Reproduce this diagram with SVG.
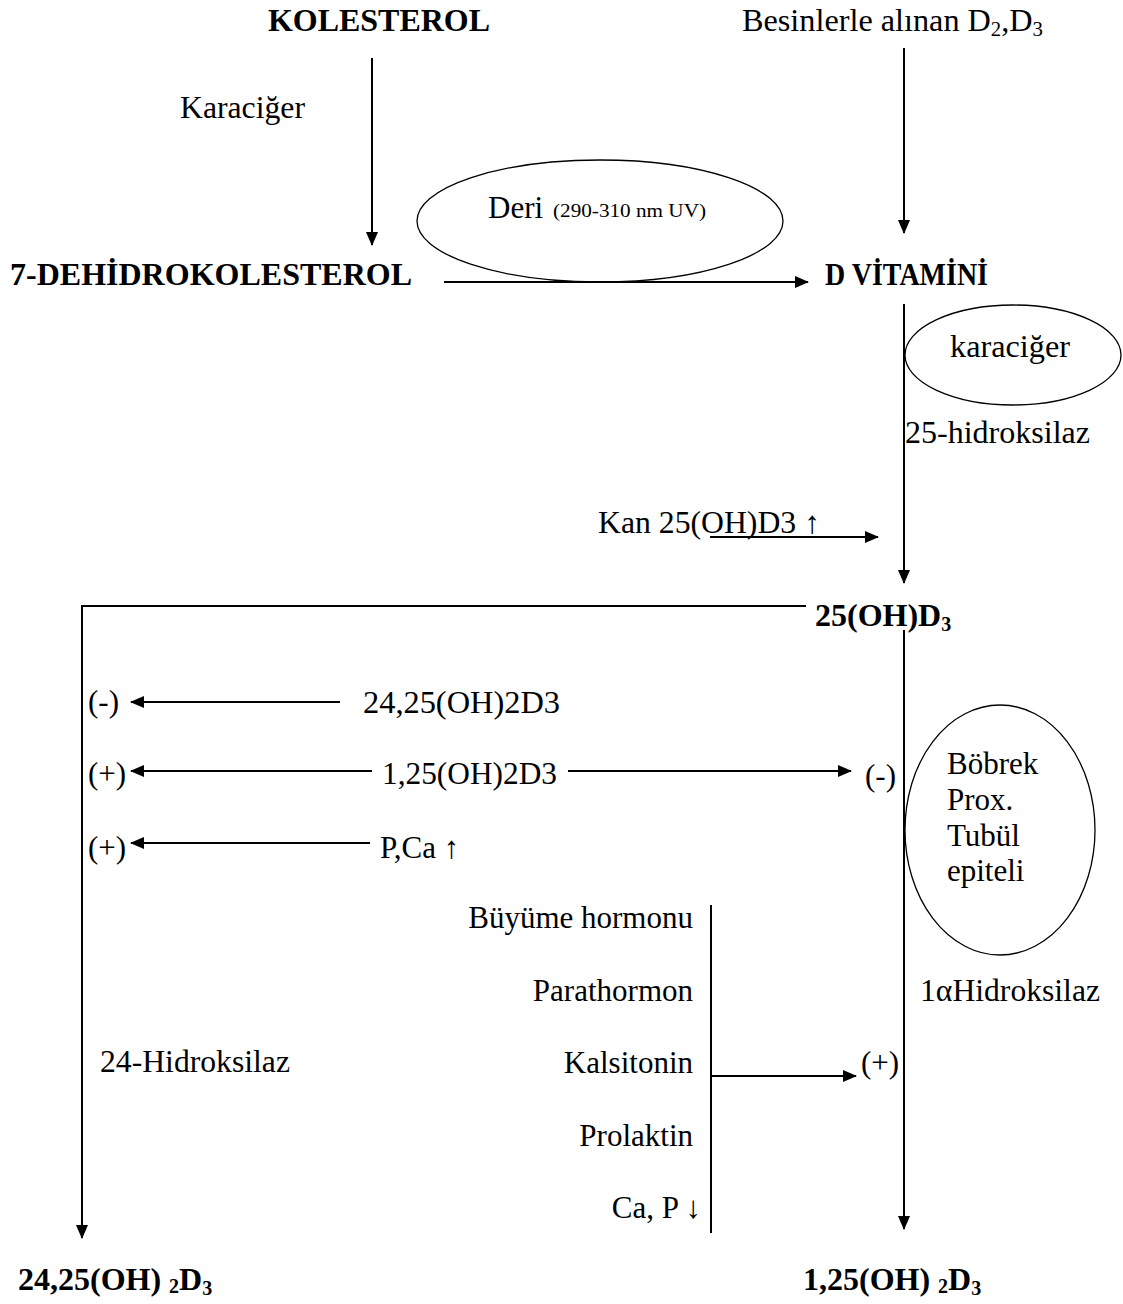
<svg xmlns="http://www.w3.org/2000/svg" width="1123" height="1304" viewBox="0 0 1123 1304">
<style>
text{font-family:"Liberation Serif","Times New Roman",serif;fill:#000;font-size:31px}
.b{font-weight:bold;font-size:32px}
.sm{font-size:19px}
.ln{stroke:#000;stroke-width:2;fill:none}
.el{stroke:#000;stroke-width:1.3;fill:none}
</style>
<defs>
<marker id="ah" viewBox="0 0 14 12" refX="13" refY="6" markerWidth="14" markerHeight="12" markerUnits="userSpaceOnUse" orient="auto">
<path d="M0,0 L14,6 L0,12 Z" fill="#000"/>
</marker>
</defs>
<rect width="1123" height="1304" fill="#fff"/>
<g id="connectors">
<line class="ln" x1="372" y1="58" x2="372" y2="245" marker-end="url(#ah)"/>
<line class="ln" x1="904" y1="48" x2="904" y2="233" marker-end="url(#ah)"/>
<line class="ln" x1="444" y1="282" x2="808" y2="282" marker-end="url(#ah)"/>
<line class="ln" x1="904" y1="304" x2="904" y2="583" marker-end="url(#ah)"/>
<line class="ln" x1="710" y1="537" x2="878" y2="537" marker-end="url(#ah)"/>
<polyline class="ln" points="806,606 82,606 82,1238" marker-end="url(#ah)"/>
<line class="ln" x1="904" y1="630" x2="904" y2="1229" marker-end="url(#ah)"/>
<line class="ln" x1="340" y1="702" x2="131" y2="702" marker-end="url(#ah)"/>
<line class="ln" x1="372" y1="771" x2="131" y2="771" marker-end="url(#ah)"/>
<line class="ln" x1="568" y1="771" x2="851" y2="771" marker-end="url(#ah)"/>
<line class="ln" x1="370" y1="843" x2="131" y2="843" marker-end="url(#ah)"/>
<line class="ln" x1="711" y1="905" x2="711" y2="1233"/>
<line class="ln" x1="711" y1="1076" x2="856" y2="1076" marker-end="url(#ah)"/>
</g>
<g id="kolesterol"><text class="b" x="268" y="31" textLength="222" lengthAdjust="spacingAndGlyphs">KOLESTEROL</text></g>
<g id="karaciger-label"><text x="180" y="118" textLength="125" lengthAdjust="spacingAndGlyphs">Karaciğer</text></g>
<g id="besin"><text x="742" y="31" textLength="301" lengthAdjust="spacingAndGlyphs">Besinlerle alınan D<tspan font-size="20" dy="5">2</tspan><tspan dy="-5">,D</tspan><tspan font-size="20" dy="5">3</tspan></text></g>
<g id="deri">
<ellipse class="el" cx="600" cy="221" rx="183" ry="61"/>
<text x="488" y="218">Deri</text>
<text class="sm" x="553" y="217" textLength="153" lengthAdjust="spacingAndGlyphs">(290-310 nm UV)</text>
</g>
<g id="dehidro"><text class="b" x="10" y="285" textLength="402" lengthAdjust="spacingAndGlyphs">7-DEHİDROKOLESTEROL</text></g>
<g id="dvitamini"><text class="b" x="825" y="285" textLength="163" lengthAdjust="spacingAndGlyphs">D VİTAMİNİ</text></g>
<g id="karaciger">
<ellipse class="el" cx="1013" cy="355" rx="108" ry="50"/>
<text x="950" y="357" textLength="120" lengthAdjust="spacingAndGlyphs">karaciğer</text>
</g>
<g id="hidroksilaz25"><text x="905" y="443" textLength="185" lengthAdjust="spacingAndGlyphs">25-hidroksilaz</text></g>
<g id="kan"><text x="598" y="533" textLength="222" lengthAdjust="spacingAndGlyphs">Kan 25(OH)D3 ↑</text></g>
<g id="oh25"><text class="b" x="815" y="626">25(OH)D<tspan font-size="20" dy="5">3</tspan></text></g>
<g id="neg1"><text x="88" y="712">(-)</text></g>
<g id="d2425"><text x="363" y="713" textLength="197" lengthAdjust="spacingAndGlyphs">24,25(OH)2D3</text></g>
<g id="pos1"><text x="88" y="784">(+)</text></g>
<g id="d125"><text x="382" y="784" textLength="175" lengthAdjust="spacingAndGlyphs">1,25(OH)2D3</text></g>
<g id="neg2"><text x="865" y="786">(-)</text></g>
<g id="pos2"><text x="88" y="858">(+)</text></g>
<g id="pca"><text x="380" y="858">P,Ca ↑</text></g>
<g id="bobrek">
<ellipse class="el" cx="1000" cy="830" rx="95" ry="125"/>
<text x="947" y="774">Böbrek</text>
<text x="947" y="810">Prox.</text>
<text x="947" y="846">Tubül</text>
<text x="947" y="881">epiteli</text>
</g>
<g id="hidroksilaz1a"><text x="920" y="1001" textLength="180" lengthAdjust="spacingAndGlyphs">1αHidroksilaz</text></g>
<g id="regulators" text-anchor="end">
<text x="693" y="928">Büyüme hormonu</text>
<text x="693" y="1001">Parathormon</text>
<text x="693" y="1073">Kalsitonin</text>
<text x="693" y="1146">Prolaktin</text>
<text x="701" y="1218">Ca, P ↓</text>
</g>
<g id="pos3"><text x="861" y="1073">(+)</text></g>
<g id="hidroksilaz24"><text x="100" y="1072" textLength="190" lengthAdjust="spacingAndGlyphs">24-Hidroksilaz</text></g>
<g id="out2425"><text class="b" x="18" y="1290">24,25(OH) <tspan font-size="20" dy="3">2</tspan><tspan dy="-3">D</tspan><tspan font-size="20" dy="5">3</tspan></text></g>
<g id="out125"><text class="b" x="803" y="1290">1,25(OH) <tspan font-size="20" dy="3">2</tspan><tspan dy="-3">D</tspan><tspan font-size="20" dy="5">3</tspan></text></g>
</svg>
